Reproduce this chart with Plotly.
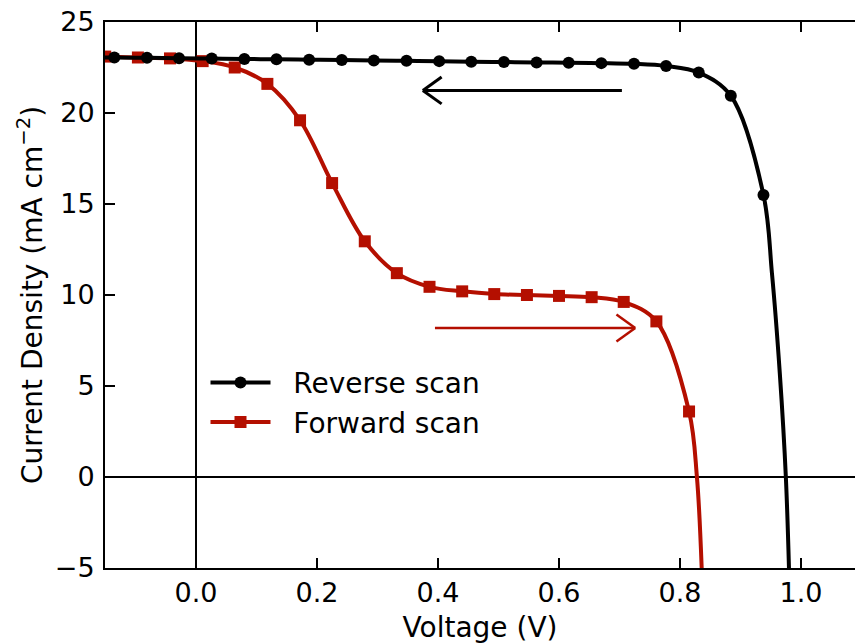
import plotly.graph_objects as go

# ---- data ----
rev_x = [-0.135, -0.081, -0.028, 0.026, 0.080, 0.133, 0.187, 0.241, 0.294, 0.348, 0.402,
         0.455, 0.509, 0.563, 0.616, 0.670, 0.724, 0.777, 0.831, 0.884, 0.938]
rev_y = [23.05, 23.03, 23.01, 22.99, 22.97, 22.95, 22.93, 22.91, 22.89, 22.87, 22.85,
         22.82, 22.80, 22.78, 22.76, 22.74, 22.70, 22.58, 22.22, 20.95, 15.50]
# extra points of the drawn curve beyond the markers
rev_line_x = [-0.160] + rev_x + [0.952, 0.965, 0.975, 0.981]
rev_line_y = [23.06] + rev_y + [11.2, 5.7, 0.0, -6.0]

fwd_x = [-0.150, -0.096, -0.043, 0.011, 0.064, 0.118, 0.172, 0.225, 0.279, 0.332,
         0.386, 0.440, 0.493, 0.547, 0.600, 0.654, 0.707, 0.761, 0.815]
fwd_y = [23.10, 23.05, 23.00, 22.85, 22.50, 21.60, 19.60, 16.15, 12.95, 11.20,
         10.45, 10.20, 10.05, 10.00, 9.95, 9.88, 9.62, 8.55, 3.60]
fwd_line_x = [-0.160] + fwd_x + [0.828, 0.837]
fwd_line_y = [23.10] + fwd_y + [0.0, -6.0]

x_ticks = [0.0, 0.2, 0.4, 0.6, 0.8, 1.0]
y_ticks = [-5, 0, 5, 10, 15, 20, 25]
x_range = [-0.1504, 1.0893]
y_range = [-5, 25]

BLACK = "#000000"
RED = "#b40f00"
FONT = "DejaVu Sans"
FS = 28
TICK_FS = 27
NB = "\u00a0\u00a0"

fig = go.Figure()

# forward scan (red) first so that black draws above
fig.add_trace(go.Scatter(x=fwd_line_x, y=fwd_line_y, mode="lines",
                         line=dict(color=RED, width=4, shape="spline", smoothing=1.0),
                         showlegend=False, hoverinfo="skip"))
fig.add_trace(go.Scatter(x=fwd_x, y=fwd_y, mode="markers", name="Forward scan",
                         marker=dict(symbol="square", size=12, color=RED),
                         showlegend=False))
fig.add_trace(go.Scatter(x=rev_line_x, y=rev_line_y, mode="lines",
                         line=dict(color=BLACK, width=4, shape="spline", smoothing=1.0),
                         showlegend=False, hoverinfo="skip"))
fig.add_trace(go.Scatter(x=rev_x, y=rev_y, mode="markers", name="Reverse scan",
                         marker=dict(symbol="circle", size=12, color=BLACK),
                         showlegend=False))
# legend entries
fig.add_trace(go.Scatter(x=[None], y=[None], mode="lines+markers", name=NB + "Reverse scan",
                         line=dict(color=BLACK, width=4),
                         marker=dict(symbol="circle", size=12, color=BLACK), legendrank=1))
fig.add_trace(go.Scatter(x=[None], y=[None], mode="lines+markers", name=NB + "Forward scan",
                         line=dict(color=RED, width=4),
                         marker=dict(symbol="square", size=12, color=RED), legendrank=2))

# scan-direction arrows (data coordinates)
arrows = [
    dict(x_tail=0.704, x_tip=0.375, y=21.24, color=BLACK, width=3),
    dict(x_tail=0.395, x_tip=0.726, y=8.19, color=RED, width=2.5),
]
head_dx = 0.031
head_dy = 0.74
for a in arrows:
    d = 1 if a["x_tip"] > a["x_tail"] else -1
    ln = dict(color=a["color"], width=a["width"])
    fig.add_shape(type="line", x0=a["x_tail"], x1=a["x_tip"], y0=a["y"], y1=a["y"], line=ln)
    fig.add_shape(type="line", x0=a["x_tip"] - d * head_dx, x1=a["x_tip"],
                  y0=a["y"] + head_dy, y1=a["y"], line=ln)
    fig.add_shape(type="line", x0=a["x_tip"] - d * head_dx, x1=a["x_tip"],
                  y0=a["y"] - head_dy, y1=a["y"], line=ln)

fig.update_layout(
    width=855, height=644,
    margin=dict(l=105, r=0, t=22, b=76),
    paper_bgcolor="white", plot_bgcolor="white",
    font=dict(family=FONT, size=FS, color="black"),
    showlegend=True,
    legend=dict(x=0.134, y=0.385, xanchor="left", yanchor="top",
                bgcolor="rgba(0,0,0,0)", font=dict(size=FS, family=FONT),
                tracegroupgap=0, itemwidth=60),
    xaxis=dict(range=x_range, tickvals=x_ticks, ticktext=[f"{v:.1f}" for v in x_ticks],
               ticks="inside", ticklen=10, tickwidth=2, tickcolor="black",
               showline=True, linecolor="black", linewidth=2, mirror="ticks",
               showgrid=False, zeroline=True, zerolinecolor="black", zerolinewidth=2,
               title=dict(text="Voltage (V)", standoff=12, font=dict(size=FS)),
               tickfont=dict(size=TICK_FS, family=FONT)),
    yaxis=dict(range=y_range, tickvals=y_ticks,
               ticktext=[("\u2212" + str(-v)) if v < 0 else str(v) for v in y_ticks],
               ticks="inside", ticklen=10, tickwidth=2, tickcolor="black",
               showline=True, linecolor="black", linewidth=2, mirror=False,
               showgrid=False, zeroline=True, zerolinecolor="black", zerolinewidth=2,
               ticklabelstandoff=3,
               title=dict(text="Current Density (mA cm<sup>\u22122</sup>)", standoff=4,
                          font=dict(size=FS)),
               tickfont=dict(size=TICK_FS, family=FONT)),
    yaxis2=dict(range=y_range, tickvals=y_ticks, overlaying="y", side="right", anchor="x",
                ticks="inside", ticklen=3, tickwidth=2, tickcolor="black",
                showline=False, showgrid=False, zeroline=False, showticklabels=False),
)

fig.write_html("out.html")
